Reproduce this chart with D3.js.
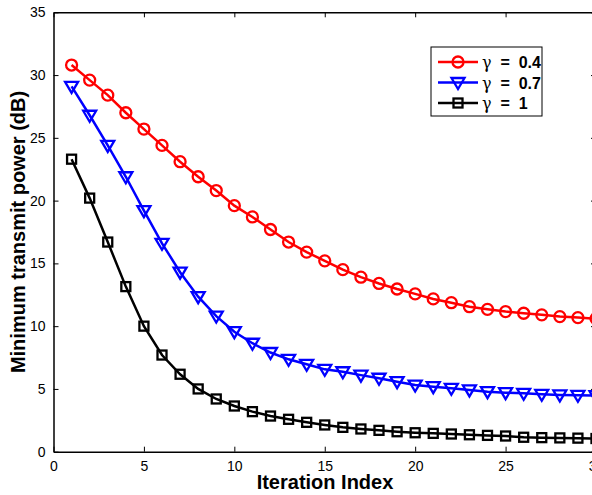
<!DOCTYPE html>
<html>
<head>
<meta charset="utf-8">
<script src="https://cdn.jsdelivr.net/npm/d3@7"></script>
<style>
  body { margin: 0; background: #fff; }
  svg { display: block; }
  text { font-family: "Liberation Sans", Arial, sans-serif; }
</style>
</head>
<body>
<div class="chart_area"></div>
<script>
var iterations = d3.range(1, 31);

var power_g04 = [30.8, 29.6, 28.4, 27.0, 25.7, 24.4, 23.1, 21.9, 20.8, 19.6,
                 18.7, 17.7, 16.7, 15.9, 15.2, 14.5, 13.9, 13.4, 12.96, 12.57,
                 12.17, 11.87, 11.55, 11.34, 11.16, 11.03, 10.9, 10.76, 10.68, 10.6];
var power_g07 = [29.1, 26.8, 24.4, 21.9, 19.2, 16.6, 14.3, 12.35, 10.8, 9.56,
                 8.64, 7.9, 7.36, 6.96, 6.56, 6.37, 6.1, 5.85, 5.58, 5.31,
                 5.18, 5.05, 4.92, 4.78, 4.7, 4.65, 4.57, 4.52, 4.49, 4.46];
var power_g1  = [23.3, 20.2, 16.7, 13.15, 10.0, 7.7, 6.17, 5.0, 4.2, 3.64,
                 3.19, 2.84, 2.58, 2.34, 2.13, 1.94, 1.81, 1.7, 1.59, 1.51,
                 1.46, 1.41, 1.35, 1.3, 1.25, 1.15, 1.12, 1.1, 1.08, 1.05];

var gamma_labels = ["0.4", "0.7", "1"];
var x_ticks = [0, 5, 10, 15, 20, 25, 30];
var y_ticks = [0, 5, 10, 15, 20, 25, 30, 35];

var series = [
  { label: gamma_labels[0], values: power_g04, color: "#ff0000", marker: "circle" },
  { label: gamma_labels[1], values: power_g07, color: "#0000ff", marker: "triangle" },
  { label: gamma_labels[2], values: power_g1,  color: "#000000", marker: "square" }
];

var W = 592, H = 495;
var plot = { left: 53.5, right: 596, top: 12.3, bottom: 451.7 };

var svg = d3.select(".chart_area")
  .append("svg")
  .attr("width", W)
  .attr("height", H);

var x = d3.scaleLinear().domain([0, 30]).range([plot.left, plot.right]);
var y = d3.scaleLinear().domain([0, 35]).range([plot.bottom, plot.top]);

// axes box with inward ticks on all four sides
function styleAxis(g) {
  g.attr("font-size", null).attr("font-family", null);
  g.selectAll("path").attr("stroke", "#000").attr("stroke-width", 1.5);
  g.selectAll("line").attr("stroke", "#000").attr("stroke-width", 1);
  g.selectAll("text").style("font-size", "14px").attr("fill", "#000");
}

svg.append("g")
  .attr("transform", "translate(0," + plot.bottom + ")")
  .call(d3.axisBottom(x).tickValues(x_ticks).tickSizeInner(-5).tickSizeOuter(0).tickPadding(9))
  .call(styleAxis);

svg.append("g")
  .attr("transform", "translate(0," + plot.top + ")")
  .call(d3.axisTop(x).tickValues(x_ticks).tickSizeInner(-5).tickSizeOuter(0).tickFormat(""))
  .call(styleAxis);

svg.append("g")
  .attr("transform", "translate(" + plot.left + ",0)")
  .call(d3.axisLeft(y).tickValues(y_ticks).tickSizeInner(-5).tickSizeOuter(0).tickPadding(8))
  .call(styleAxis);

svg.append("g")
  .attr("transform", "translate(" + plot.right + ",0)")
  .call(d3.axisRight(y).tickValues(y_ticks).tickSizeInner(-5).tickSizeOuter(0).tickFormat(""))
  .call(styleAxis);

// marker shapes
function drawMarker(sel, type, color) {
  if (type === "circle") {
    sel.append("circle").attr("r", 5.5);
  } else if (type === "triangle") {
    sel.append("path").attr("d", "M-6.5,-4.5 L6.5,-4.5 L0,6.5 Z");
  } else {
    sel.append("rect").attr("x", -4.5).attr("y", -4.5).attr("width", 9).attr("height", 9);
  }
  sel.selectAll("circle,path,rect")
    .attr("fill", "none")
    .attr("stroke", color)
    .attr("stroke-width", 2.3);
}

var line = d3.line()
  .x(function(d, i) { return x(iterations[i]); })
  .y(function(d) { return y(d); });

series.forEach(function(s) {
  svg.append("path")
    .datum(s.values)
    .attr("fill", "none")
    .attr("stroke", s.color)
    .attr("stroke-width", 2.5)
    .attr("d", line);

  svg.append("g")
    .selectAll("g")
    .data(s.values)
    .enter()
    .append("g")
    .attr("transform", function(d, i) { return "translate(" + x(iterations[i]) + "," + y(d) + ")"; })
    .each(function() { drawMarker(d3.select(this), s.marker, s.color); });
});

// axis labels
svg.append("text")
  .attr("x", 325)
  .attr("y", 489)
  .attr("text-anchor", "middle")
  .style("font-size", "20px")
  .attr("font-weight", "bold")
  .text("Iteration Index");

svg.append("text")
  .attr("transform", "translate(25," + ((plot.top + plot.bottom) / 2) + ") rotate(-90)")
  .attr("text-anchor", "middle")
  .style("font-size", "20px")
  .attr("font-weight", "bold")
  .text("Minimum transmit power (dB)");

// legend
var legend = svg.append("g").attr("transform", "translate(431,47)");
legend.append("rect")
  .attr("width", 111)
  .attr("height", 69)
  .attr("fill", "#fff")
  .attr("stroke", "#000")
  .attr("stroke-width", 1);

series.forEach(function(s, i) {
  var row = legend.append("g").attr("transform", "translate(0," + (15 + i * 20.5) + ")");
  row.append("line")
    .attr("x1", 7).attr("x2", 47)
    .attr("stroke", s.color)
    .attr("stroke-width", 2.5);
  drawMarker(row.append("g").attr("transform", "translate(27,0)"), s.marker, s.color);
  var t = row.append("text")
    .attr("x", 51)
    .attr("y", 6)
    .style("font-size", "16px")
    .attr("font-weight", "bold")
    .attr("xml:space", "preserve");
  t.append("tspan").attr("font-weight", "normal").attr("font-family", "DejaVu Serif, serif").text("\u03B3");
  t.append("tspan").text("  =  " + s.label);
});
</script>
</body>
</html>
